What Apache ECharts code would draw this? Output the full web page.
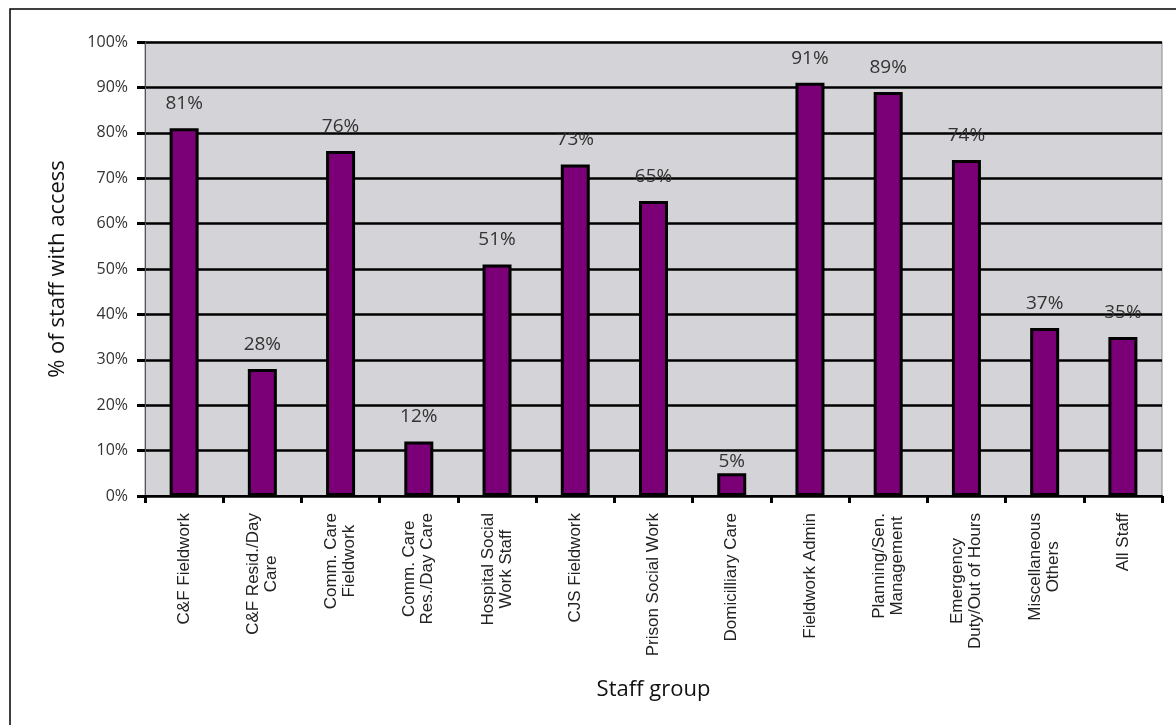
<!DOCTYPE html>
<html>
<head>
<meta charset="utf-8">
<script src="https://cdn.jsdelivr.net/npm/echarts@6/dist/echarts.min.js"></script>
<style>
  html, body { margin: 0; padding: 0; background: #fff; }
  #chart { width: 1176px; height: 725px; }
</style>
</head>
<body>
<div id="chart"></div>
<script>
// Staff groups and share of staff with access
const categories = [
  'C&F Fieldwork',
  'C&F Resid./Day\nCare',
  'Comm. Care\nFieldwork',
  'Comm. Care\nRes./Day Care',
  'Hospital Social\nWork Staff',
  'CJS Fieldwork',
  'Prison Social Work',
  'Domicilliary Care',
  'Fieldwork Admin',
  'Planning/Sen.\nManagement',
  'Emergency\nDuty/Out of Hours',
  'Miscellaneous\nOthers',
  'All Staff'
];
const accessShare = [0.81, 0.28, 0.76, 0.12, 0.51, 0.73, 0.65, 0.05, 0.91, 0.89, 0.74, 0.37, 0.35];
const yTicks = [0, 0.1, 0.2, 0.3, 0.4, 0.5, 0.6, 0.7, 0.8, 0.9, 1.0];

const pct = v => Math.round(v * 100) + '%';

const chart = echarts.init(document.getElementById('chart'), null, { renderer: 'canvas' });

chart.setOption({
  backgroundColor: '#ffffff',
  animation: false,
  graphic: [{
    type: 'rect',
    shape: { x: 10, y: 9, width: 1300, height: 900 },
    style: { fill: 'none', stroke: '#000', lineWidth: 1.5 },
    z: -1
  }],
  grid: {
    left: 145, right: 14, top: 42, bottom: 229,
    show: true,
    backgroundColor: '#d4d3d8',
    borderColor: '#8a8a8a',
    borderWidth: 1
  },
  xAxis: {
    type: 'category',
    data: categories,
    boundaryGap: true,
    name: 'Staff group',
    nameLocation: 'middle',
    nameGap: 183,
    nameTextStyle: { fontFamily: 'Open Sans', fontSize: 22, color: '#111' },
    axisLine: { show: true, lineStyle: { color: '#000', width: 2 } },
    axisTick: { show: true, alignWithLabel: false, length: 7, lineStyle: { color: '#000', width: 3 } },
    axisLabel: {
      interval: 0,
      rotate: 90,
      margin: 17,
      fontFamily: 'Liberation Sans',
      fontSize: 17,
      color: '#222',
      lineHeight: 18,
      formatter: v => v.split('\n').map(s => '{c|' + s + '}').join('\n'),
      rich: { c: { align: 'center', fontFamily: 'Liberation Sans', fontSize: 17, color: '#222', lineHeight: 18 } }
    }
  },
  yAxis: {
    type: 'value',
    min: yTicks[0],
    max: yTicks[yTicks.length - 1],
    interval: 0.1,
    name: '% of staff with access',
    nameLocation: 'middle',
    nameGap: 76,
    nameRotate: 90,
    nameTextStyle: { fontFamily: 'Open Sans', fontSize: 22, color: '#111' },
    axisLine: { show: true, lineStyle: { color: '#555', width: 1 } },
    axisTick: { show: true, length: 8, lineStyle: { color: '#000', width: 3 } },
    axisLabel: {
      margin: 17,
      fontFamily: 'Open Sans',
      fontSize: 16,
      color: '#333',
      formatter: v => pct(v)
    },
    splitLine: { show: true, lineStyle: { color: '#000', width: 2.5 } }
  },
  series: [{
    type: 'bar',
    barWidth: 29,
    data: accessShare.map(v => ({
      value: v,
      label: { distance: v < 0.1 ? 2 : 15 }
    })),
    itemStyle: { color: '#7b0077', borderColor: '#000', borderWidth: 3 },
    label: {
      show: true,
      position: 'top',
      fontFamily: 'Open Sans',
      fontSize: 19,
      color: '#333',
      formatter: p => pct(p.value)
    }
  }]
});
</script>
</body>
</html>
